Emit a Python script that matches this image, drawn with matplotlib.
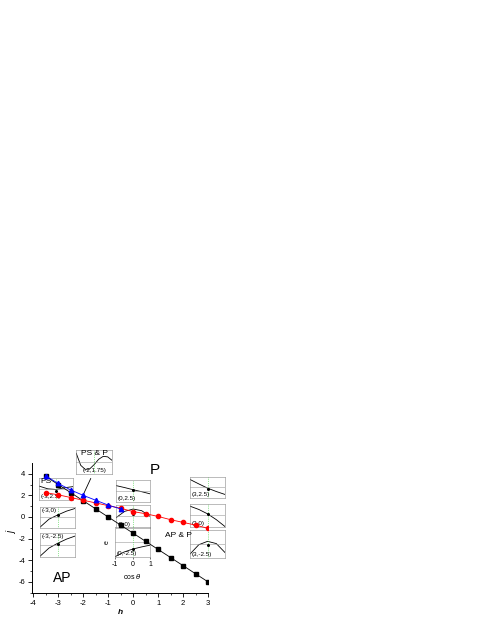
import numpy as np
import matplotlib
matplotlib.use("Agg")
import matplotlib.pyplot as plt

plt.rcParams["font.family"] = ["Liberation Sans", "DejaVu Sans"]
plt.rcParams["axes.unicode_minus"] = False

# main series (h, j)
h_black = [-3.5, -3, -2.5, -2, -1.5, -1, -0.5, 0, 0.5, 1, 1.5, 2, 2.5, 3]
j_black = [3.75, 3.0, 2.25, 1.5, 0.75, 0.0, -0.75, -1.5, -2.25, -3.0, -3.75, -4.5, -5.25, -6.0]
h_blue = [-3.5, -3, -2.5, -2, -1.5, -1, -0.5]
j_blue = [3.8, 3.1, 2.5, 2.0, 1.55, 1.1, 0.75]
h_red = [-3.5, -3, -2.5, -2, -1.5, -1, -0.5, 0, 0.5, 1, 1.5, 2, 2.5, 3]
j_red = [2.25, 2.05, 1.8, 1.55, 1.3, 1.05, 0.8, 0.5, 0.3, 0.05, -0.25, -0.5, -0.75, -1.05]

# inset energy curves e(cos theta), read as fraction of each inset's height
cos_pts = [-1, -0.5, 0, 0.5, 1]
cos_wave = [-1, -0.75, -0.5, -0.25, 0, 0.25, 0.5, 0.75, 1]
insets = {
    "(-2,1.75)": dict(box=[-2.28, 4.0, 1.44, 2.23], x=cos_wave,
                      e=[0.85, 0.35, 0.18, 0.2, 0.38, 0.6, 0.72, 0.7, 0.55], dot=None),
    "(-3,2.5)": dict(box=[-3.76, 1.58, 1.36, 2.05], x=cos_pts,
                     e=[0.62, 0.5, 0.47, 0.55, 0.6], dot=0.4),
    "(-3,0)": dict(box=[-3.72, -1.02, 1.4, 1.95], x=cos_pts,
                   e=[0.05, 0.42, 0.62, 0.8, 0.93], dot=0.6),
    "(-3,-2.5)": dict(box=[-3.72, -3.72, 1.4, 2.23], x=cos_pts,
                      e=[0.05, 0.38, 0.58, 0.75, 0.88], dot=0.56),
    "(0,2.5)": dict(box=[-0.68, 1.4, 1.36, 2.0], x=cos_pts,
                    e=[0.75, 0.66, 0.56, 0.47, 0.37], dot=0.56),
    "(0,0)": dict(box=[-0.68, -1.02, 1.36, 2.14], x=cos_pts,
                  e=[0.45, 0.72, 0.82, 0.75, 0.5], dot=0.6),
    "(0,-2.5)": dict(box=[-0.72, -3.72, 1.4, 2.79], x=cos_pts,
                     e=[0.02, 0.17, 0.27, 0.34, 0.4], dot=0.27),
    "(3,2.5)": dict(box=[2.28, 1.77, 1.4, 1.95], x=cos_pts,
                    e=[0.87, 0.66, 0.46, 0.3, 0.16], dot=0.42),
    "(3,0)": dict(box=[2.28, -0.93, 1.4, 2.14], x=cos_pts,
                  e=[0.9, 0.76, 0.57, 0.32, 0.02], dot=0.57),
    "(3,-2.5)": dict(box=[2.28, -3.81, 1.4, 2.6], x=cos_pts,
                     e=[0.15, 0.48, 0.6, 0.52, 0.2], dot=0.47),
}

fig = plt.figure(figsize=(4.85, 6.27), dpi=100)
ax = fig.add_axes([0.066, 0.0547, 0.363, 0.207])

ax.plot(h_black, j_black, color="black", lw=0.6, marker="s", ms=2.6, zorder=4)
ax.plot(h_red, j_red, color="red", lw=0.6, marker="o", ms=3, zorder=5)
ax.plot(h_blue, j_blue, color="blue", lw=0.6, marker="^", ms=3.2, zorder=6)

ax.set_xlim(-4.05, 3)
ax.set_ylim(-7, 5)
ax.set_xticks(range(-4, 4))
ax.set_yticks([-6, -4, -2, 0, 2, 4])
ax.set_xticks(np.arange(-3.5, 3, 1), minor=True)
ax.set_yticks(range(-7, 5, 2), minor=True)
ax.tick_params(labelsize=5.5, length=3, width=0.6, direction="out", pad=2)
ax.tick_params(which="minor", length=1.5, width=0.5)
for s in ["top", "right"]:
    ax.spines[s].set_visible(False)
for s in ["left", "bottom"]:
    ax.spines[s].set_linewidth(0.7)
ax.patch.set_alpha(0)

ax.set_xlabel("h", fontsize=6, style="italic", fontweight="bold")
ax.set_ylabel("j", fontsize=7, style="italic")
ax.xaxis.set_label_coords(0.5, -0.125)
ax.yaxis.set_label_coords(-0.085, 0.46)

ax.text(0.88, 4.35, "P", fontsize=11, ha="center", va="center")
ax.text(-2.85, -5.67, "AP", fontsize=10, ha="center", va="center")
ax.text(1.8, -1.7, "AP & P", fontsize=6, ha="center", va="center")

ax.annotate("", xy=(-2.05, 1.8), xytext=(-1.65, 3.8),
            arrowprops=dict(arrowstyle="-", color="black", lw=0.6), zorder=3)

for name, d in insets.items():
    ia = ax.inset_axes(d["box"], transform=ax.transData, zorder=1)
    ia.set_facecolor("none")
    ia.plot(d["x"], d["e"], color="black", lw=0.6)
    ia.axhline(0.5, color="#999999", lw=0.4)
    ia.axvline(0, color="#33cc33", lw=0.5, ls=":")
    if d["dot"] is not None:
        ia.plot([0], [d["dot"]], "o", color="black", ms=1.2)
    ia.set_xlim(-1, 1)
    ia.set_ylim(0, 1)
    for s in ia.spines.values():
        s.set_linewidth(0.4)
        s.set_color("#888888")
    ia.set_yticks([])
    if name == "(0,-2.5)":
        ia.set_xticks([-1, 0, 1])
        ia.tick_params(axis="x", labelsize=5, length=1.5, width=0.4, pad=1)
        ia.set_xlabel(r"cos $\theta$", fontsize=5, labelpad=3)
        ia.set_ylabel("e", fontsize=5, labelpad=3)
    else:
        ia.set_xticks([])
    if name == "(-2,1.75)":
        ia.text(0.5, 0.97, "PS & P", transform=ia.transAxes, fontsize=6,
                ha="center", va="top")
        ia.text(0.5, 0.04, name, transform=ia.transAxes, fontsize=4.5,
                ha="center", va="bottom")
    elif name == "(-3,2.5)":
        ia.text(0.04, 0.97, "PS", transform=ia.transAxes, fontsize=6,
                ha="left", va="top")
        ia.text(0.04, 0.04, name, transform=ia.transAxes, fontsize=4.5,
                ha="left", va="bottom")
    elif name.startswith("(-3"):
        ia.text(0.04, 0.95, name, transform=ia.transAxes, fontsize=4.5,
                ha="left", va="top")
    else:
        ia.text(0.04, 0.04, name, transform=ia.transAxes, fontsize=4.5,
                ha="left", va="bottom")

fig.savefig("out.png", dpi=100)
